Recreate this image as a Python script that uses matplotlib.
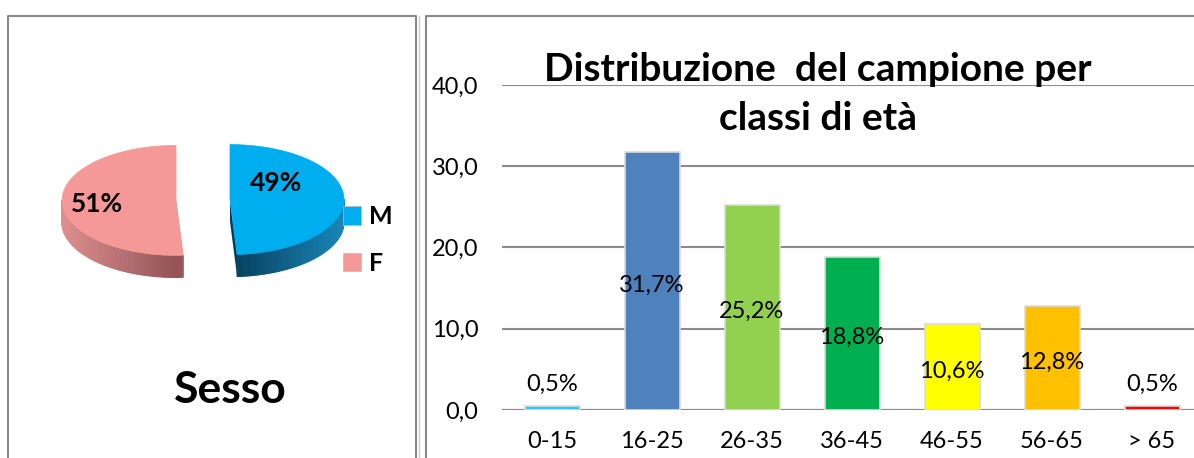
import numpy as np
from matplotlib import pyplot as plt
from matplotlib.patches import Polygon, Patch
from matplotlib.lines import Line2D
from matplotlib.ticker import FuncFormatter
from matplotlib.colors import to_rgb

plt.rcParams['font.family'] = ['Lato', 'DejaVu Sans']

# sesso del campione
sesso = ['M', 'F']
sesso_pct = [49, 51]

# classi di eta'
classi = ['0-15', '16-25', '26-35', '36-45', '46-55', '56-65', '> 65']
classi_pct = [0.5, 31.7, 25.2, 18.8, 10.6, 12.8, 0.5]
y_ticks = [0, 10, 20, 30, 40]

W, H = 1194, 458
fig = plt.figure(figsize=(W / 100, H / 100), dpi=100)

# cornici dei due grafici
grey = '#8a8a8a'
fig.add_artist(Line2D([8 / W, 8 / W, 416 / W, 416 / W], [0, 1 - 16 / H, 1 - 16 / H, 0],
                      color=grey, lw=1.5))
fig.add_artist(Line2D([419 / W, 419 / W], [0, 1 - 16 / H], color='#cfcfcf', lw=1))
fig.add_artist(Line2D([426 / W, 426 / W, 1], [0, 1 - 16 / H, 1 - 16 / H], color=grey, lw=1.5))

# ---- torta 3D (sesso) ----
ax_p = fig.add_axes([0, 0, 416 / W, 1])
ax_p.set_xlim(0, 416)
ax_p.set_ylim(0, H)
ax_p.axis('off')

top_col = {'M': '#00adef', 'F': '#f59898'}
side_light = {'M': '#1a86b8', 'F': '#de9090'}
side_dark = {'M': '#053d5a', 'F': '#945456'}
cx0, cy0 = 203, H - 200
a, b, depth, explode = 114, 55, 22, 27

def mix(c1, c2, f):
    c1, c2 = np.array(to_rgb(c1)), np.array(to_rgb(c2))
    return tuple(c2 + (c1 - c2) * f)

start = 90.0
handles = []
label_pos = {'M': (0.40, 16), 'F': (0.69, -2)}
for name, pct in zip(sesso, sesso_pct):
    sweep = 360.0 * pct / sum(sesso_pct)
    t1, t2 = start - sweep, start
    mid = np.radians((t1 + t2) / 2)
    cx = cx0 + explode * np.cos(mid)
    cy = cy0 + explode * np.sin(mid) * b / a
    t = np.radians(np.linspace(t1, t2, 200))
    xs, ys = cx + a * np.cos(t), cy + b * np.sin(t)

    # fianco con sfumatura
    for i in range(len(t) - 1):
        if np.sin(t[i]) < 0 or np.sin(t[i + 1]) < 0:
            f = abs(np.cos((t[i] + t[i + 1]) / 2))
            c = mix(side_light[name], side_dark[name], f)
            quad = [(xs[i], ys[i]), (xs[i + 1], ys[i + 1]),
                    (xs[i + 1], ys[i + 1] - depth), (xs[i], ys[i] - depth)]
            ax_p.add_patch(Polygon(quad, closed=True, fc=c, ec=c, lw=0.8, zorder=1))
    # facce di taglio
    for k in (0, -1):
        face = [(cx, cy), (xs[k], ys[k]), (xs[k], ys[k] - depth), (cx, cy - depth)]
        ax_p.add_patch(Polygon(face, closed=True, fc=side_dark[name], ec='none', zorder=0.5))
    top = Polygon(np.column_stack([np.r_[cx, xs], np.r_[cy, ys]]), closed=True,
                  fc=top_col[name], ec=top_col[name], lw=0.5, zorder=2)
    ax_p.add_patch(top)
    handles.append(Patch(fc=top_col[name], ec='#bbbbbb', lw=0.5, label=name))

    fr, lift = label_pos[name]
    ax_p.text(cx + fr * a * np.cos(mid), cy + fr * b * np.sin(mid) + lift, f'{pct}%',
              ha='center', va='center', fontsize=19, fontweight='bold', zorder=3)
    start = t1

ax_p.legend(handles=handles, loc='center left', bbox_to_anchor=(320 / 416, 1 - 240 / H),
            frameon=False, handlelength=0.75, handleheight=0.75, handletextpad=0.3,
            labelspacing=0.95, prop={'weight': 'bold', 'size': 18})
ax_p.text(230, H - 390, 'Sesso', ha='center', va='center', fontsize=32, fontweight='bold')

# ---- istogramma classi di eta' ----
ax = fig.add_axes([502 / W, 1 - 410 / H, 700 / W, 325 / H])
colors = ['#33c6f4', '#4f81bd', '#92d050', '#00b050', '#ffff00', '#ffc000', '#ff0000']
x = np.arange(len(classi))
ax.bar(x, classi_pct, width=0.55, color=colors, edgecolor='#dadada', linewidth=1.2, zorder=3)
ax.set_xlim(-0.5, len(classi) - 0.5)
ax.set_ylim(0, 40)
ax.set_yticks(y_ticks)
ax.yaxis.set_major_formatter(FuncFormatter(lambda v, p: f'{v:.1f}'.replace('.', ',')))
ax.set_xticks(x)
ax.set_xticklabels(classi)
ax.tick_params(axis='both', length=0, labelsize=17)
ax.tick_params(axis='y', pad=17)
ax.tick_params(axis='x', pad=15)
ax.grid(axis='y', color=grey, lw=1.5, zorder=0)
for s in ax.spines.values():
    s.set_visible(False)
ax.axhline(0, color=grey, lw=1.5, zorder=2)

for xi, v in zip(x, classi_pct):
    txt = f'{v:.1f}%'.replace('.', ',')
    if v < 2:
        ax.text(xi, v + 2.6, txt, ha='center', va='center', fontsize=17, zorder=4)
    else:
        ax.text(xi, v / 2 - 0.5, txt, ha='center', va='center', fontsize=17, zorder=4)

fig.text(818 / W, 1 - 94 / H, 'Distribuzione  del campione per\nclassi di età', ha='center',
         va='center', fontsize=28, fontweight='bold', linespacing=1.5)

fig.savefig('out.png', dpi=100)
